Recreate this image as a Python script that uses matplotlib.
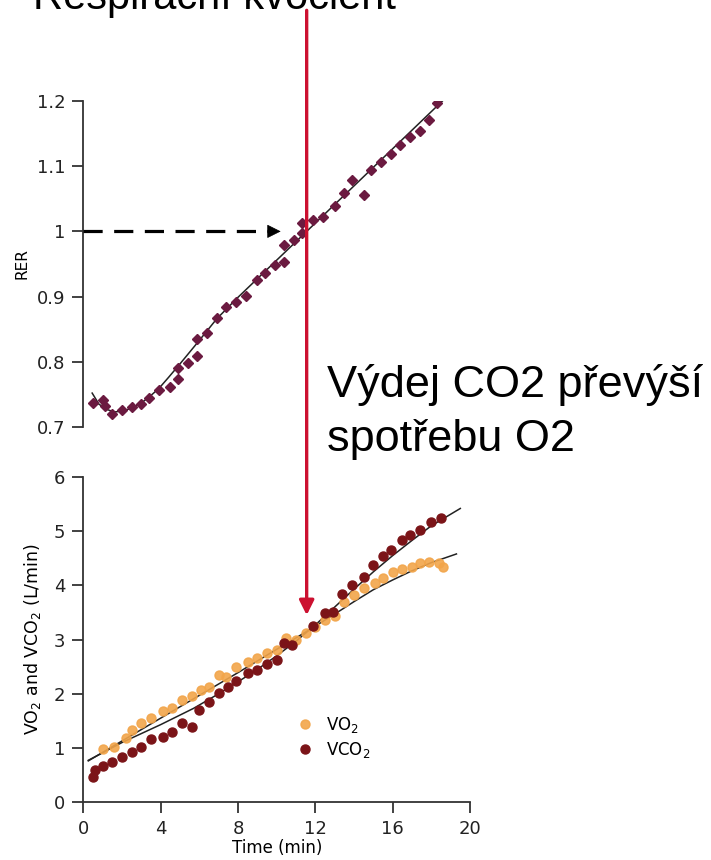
import matplotlib
matplotlib.use("Agg")
import matplotlib.pyplot as plt

# RER measurements (time in min)
rer_time = [0.5, 1.0, 1.1, 1.5, 2.0, 2.5, 3.0, 3.4, 3.9, 4.5, 4.9, 4.9, 5.4, 5.9, 5.9,
            6.4, 6.9, 7.4, 7.9, 8.4, 9.0, 9.4, 9.9, 10.4, 10.4, 10.9, 11.3, 11.3, 11.9,
            12.4, 13.0, 13.5, 13.9, 14.5, 14.9, 15.4, 15.9, 16.4, 16.9, 17.4, 17.9, 18.3]
rer_vals = [0.737, 0.741, 0.732, 0.720, 0.726, 0.731, 0.735, 0.745, 0.757, 0.761, 0.774,
            0.790, 0.798, 0.809, 0.835, 0.844, 0.867, 0.884, 0.892, 0.901, 0.925, 0.936,
            0.948, 0.953, 0.979, 0.987, 0.998, 1.013, 1.017, 1.022, 1.039, 1.059, 1.079,
            1.056, 1.094, 1.106, 1.118, 1.133, 1.145, 1.154, 1.171, 1.197]
rer_fit_t = [0.45, 0.8, 1.2, 1.6, 2.1, 2.6, 3.0, 3.4, 3.9, 4.4, 5.0, 5.5, 6.0, 6.9, 8.0, 11.55, 19.1]
rer_fit_v = [0.752, 0.735, 0.727, 0.723, 0.725, 0.730, 0.737, 0.746, 0.759, 0.776, 0.797,
             0.815, 0.833, 0.866, 0.899, 1.000, 1.215]

# VO2 / VCO2 (L/min)
vo2_time = [1.0, 1.6, 2.2, 2.5, 3.0, 3.5, 4.1, 4.6, 5.1, 5.6, 6.1, 6.5, 7.0, 7.4, 7.9, 8.5,
            9.0, 9.5, 10.0, 10.5, 11.0, 11.5, 12.0, 12.5, 13.0, 13.5, 14.0, 14.5, 15.1,
            15.5, 16.0, 16.5, 17.0, 17.4, 17.9, 18.4, 18.6]
vo2_vals = [0.97, 1.01, 1.18, 1.33, 1.46, 1.56, 1.68, 1.74, 1.88, 1.96, 2.07, 2.13, 2.34,
            2.31, 2.49, 2.58, 2.66, 2.75, 2.80, 3.03, 2.99, 3.12, 3.23, 3.36, 3.43, 3.69,
            3.82, 3.95, 4.04, 4.13, 4.24, 4.30, 4.34, 4.41, 4.43, 4.41, 4.34]
vco2_time = [0.5, 0.6, 1.0, 1.5, 2.0, 2.5, 3.0, 3.5, 4.1, 4.6, 5.1, 5.6, 6.0, 6.5, 7.0,
             7.5, 7.9, 8.5, 9.0, 9.5, 10.0, 10.4, 10.8, 11.9, 12.5, 12.9, 13.4, 13.9,
             14.5, 15.0, 15.5, 15.9, 16.5, 16.9, 17.4, 18.0, 18.5]
vco2_vals = [0.46, 0.59, 0.66, 0.73, 0.83, 0.93, 1.02, 1.16, 1.20, 1.30, 1.45, 1.39, 1.70,
             1.85, 2.01, 2.13, 2.24, 2.39, 2.44, 2.55, 2.62, 2.93, 2.90, 3.25, 3.49, 3.50,
             3.84, 4.00, 4.15, 4.37, 4.54, 4.65, 4.83, 4.93, 5.02, 5.17, 5.24]
vo2_fit_t = [0.25, 4.0, 8.0, 10.0, 11.0, 12.0, 13.0, 14.0, 15.0, 16.0, 17.0, 18.0, 19.3]
vo2_fit_v = [0.76, 1.55, 2.39, 2.82, 3.03, 3.25, 3.47, 3.70, 3.92, 4.10, 4.27, 4.42, 4.58]
vco2_fit_t = [0.25, 2.0, 4.0, 5.7, 7.0, 8.0, 9.0, 10.0, 11.0, 12.0, 13.0, 14.0, 15.0,
              16.0, 17.0, 18.0, 19.5]
vco2_fit_v = [0.77, 1.10, 1.43, 1.73, 2.00, 2.22, 2.45, 2.70, 2.97, 3.27, 3.60, 3.93,
              4.25, 4.55, 4.83, 5.10, 5.42]

rer_ticks = [0.7, 0.8, 0.9, 1.0, 1.1, 1.2]
rer_labels = ["0.7", "0.8", "0.9", "1", "1.1", "1.2"]
t_cross = 11.55

fig = plt.figure(figsize=(7.11, 8.6), dpi=100)
ax1 = fig.add_axes([0.1174, 0.5035, 0.5436, 0.3791])
ax2 = fig.add_axes([0.1174, 0.0674, 0.5436, 0.3779])

spine_c = "#333333"

# RER panel
ax1.plot(rer_fit_t, rer_fit_v, color="#222222", lw=1.1, zorder=2)
ax1.plot(rer_time, rer_vals, "D", color="#6b1a40", ms=5.5, zorder=3)
ax1.plot([0, 9.6], [1.0, 1.0], color="black", lw=2.3, dashes=(6, 3.6), zorder=4)
ax1.annotate("", xy=(10.35, 1.0), xytext=(9.4, 1.0),
             arrowprops=dict(arrowstyle="-|>", color="black", lw=0.5, mutation_scale=22))
ax1.set_xlim(0, 20)
ax1.set_ylim(0.7, 1.2)
ax1.set_yticks(rer_ticks)
ax1.set_yticklabels(rer_labels)
ax1.set_xticks([])
for s in ["top", "right", "bottom"]:
    ax1.spines[s].set_visible(False)
ax1.spines["left"].set_color(spine_c)
ax1.spines["left"].set_linewidth(1.3)
ax1.tick_params(axis="y", direction="out", length=8, width=1.3, color=spine_c,
                labelsize=13, pad=5, labelcolor="#222222")
ax1.set_ylabel("RER", fontsize=11, labelpad=5)
ax1.patch.set_alpha(0)

# VO2 / VCO2 panel
ax2.plot(vo2_fit_t, vo2_fit_v, color="#222222", lw=1.1, zorder=2)
ax2.plot(vco2_fit_t, vco2_fit_v, color="#222222", lw=1.1, zorder=2)
ax2.plot(vo2_time, vo2_vals, "o", color="#f2a54a", ms=6.5, alpha=0.9, zorder=3,
         label="VO$_2$")
ax2.plot(vco2_time, vco2_vals, "o", color="#7b1418", ms=6.5, zorder=3, label="VCO$_2$")
ax2.set_xlim(0, 20)
ax2.set_ylim(0, 6)
ax2.set_xticks([0, 4, 8, 12, 16, 20])
ax2.set_yticks([0, 1, 2, 3, 4, 5, 6])
for s in ["top", "right"]:
    ax2.spines[s].set_visible(False)
for s in ["left", "bottom"]:
    ax2.spines[s].set_color(spine_c)
    ax2.spines[s].set_linewidth(1.3)
ax2.tick_params(direction="out", length=8, width=1.3, color=spine_c,
                labelsize=13, pad=5, labelcolor="#222222")
ax2.set_xlabel("Time (min)", fontsize=12, labelpad=1)
ax2.set_ylabel("VO$_2$ and VCO$_2$ (L/min)", fontsize=12.5, labelpad=8)
ax2.legend(loc="upper left", bbox_to_anchor=(0.49, 0.313), frameon=False,
           fontsize=12, handletextpad=0.3, labelspacing=0.3, markerscale=1.0)
ax2.patch.set_alpha(0)

# red vertical arrow through both panels
ax2.annotate("", xy=(t_cross, 3.45), xycoords="data",
             xytext=(t_cross, 0.988), textcoords=("data", "figure fraction"),
             arrowprops=dict(arrowstyle="-|>", color="#cc1030", lw=2.4,
                             mutation_scale=22, shrinkA=0, shrinkB=0),
             annotation_clip=False)

# slide texts
fig.text(0.046, 0.990, "Respirační kvocient", fontsize=30, family="Liberation Sans",
         va="baseline", ha="left")
fig.text(0.46, 0.538, "Výdej CO2 převýší", fontsize=32.5, family="Liberation Sans",
         va="baseline", ha="left")
fig.text(0.46, 0.475, "spotřebu O2", fontsize=32.5, family="Liberation Sans",
         va="baseline", ha="left")

fig.savefig("out.png", dpi=100)
